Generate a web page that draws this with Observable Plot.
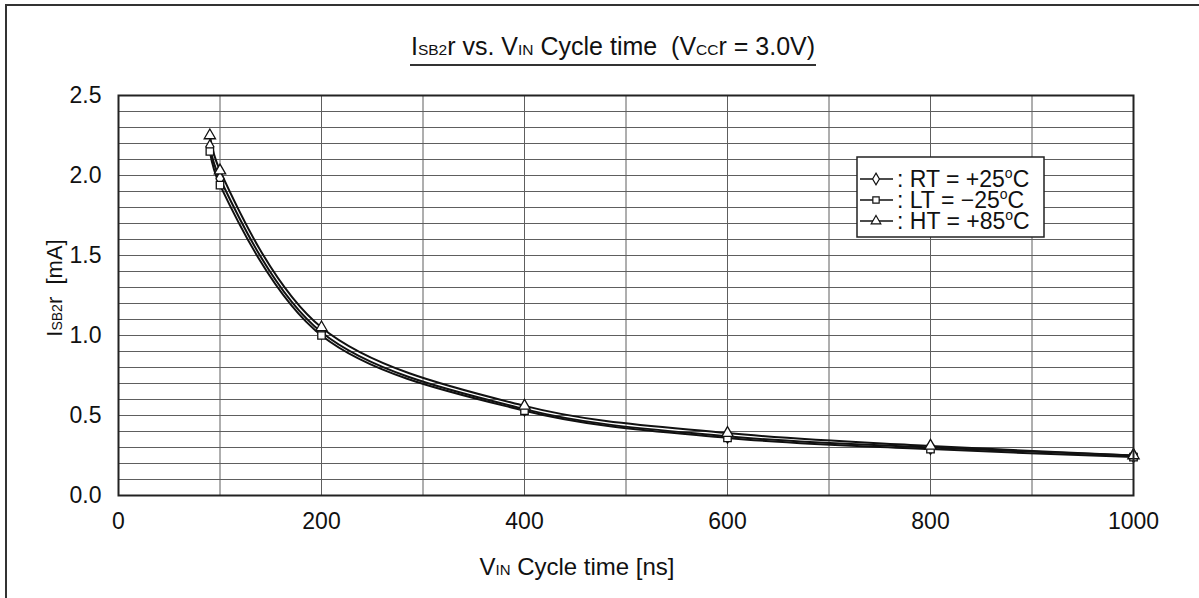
<!DOCTYPE html>
<html><head><meta charset="utf-8">
<script src="https://cdn.jsdelivr.net/npm/d3@7"></script>
<script src="https://cdn.jsdelivr.net/npm/@observablehq/plot@0.6"></script>
<style>
body{margin:0;background:#fff;font-family:"Liberation Sans",Arial,sans-serif;}
#fig{position:relative;width:1199px;height:598px;overflow:hidden;background:#fff;}
#border{position:absolute;left:5px;top:4px;width:1400px;height:800px;border-left:2px solid #333;border-top:2px solid #333;}
#title{position:absolute;left:0;width:1226px;top:32px;text-align:center;font-size:25px;color:#111;}
#title span.t{display:inline-block;border-bottom:2px solid #333;padding:0 1px 1px 1px;line-height:27px;}
.s{font-size:0.62em;}
#chart{position:absolute;left:0;top:0;}
</style></head>
<body>
<div id="fig">
  <div id="border"></div>
  <div id="chart"></div>
  <div id="title"><span class="t">I<span class="s">SB2</span>r vs. V<span class="s">IN</span> Cycle time&nbsp;&nbsp;(V<span class="s">CC</span>r = 3.0V)</span></div>
</div>
<script>
const cycleTime = [90, 100, 200, 400, 600, 800, 1000];
const rt = [2.18, 1.98, 1.02, 0.54, 0.37, 0.30, 0.25];
const lt = [2.15, 1.94, 1.00, 0.53, 0.36, 0.29, 0.24];
const ht = [2.25, 2.03, 1.05, 0.56, 0.39, 0.31, 0.25];
const seriesNames = ["RT", "LT", "HT"];
const seriesLabels = ["RT = +25", "LT = \u221225", "HT = +85"];
const seriesSymbols = ["diamond", "square", "triangle"];
const xTicks = [0, 200, 400, 600, 800, 1000];
const yTicks = [0, 0.5, 1.0, 1.5, 2.0, 2.5];

const seriesValues = [rt, lt, ht];
const data = [];
seriesNames.forEach((s, i) => cycleTime.forEach((x, j) => data.push({series: s, x, y: seriesValues[i][j], sym: seriesSymbols[i]})));

const W = 1199, H = 598;
const mL = 118, mR = 66, mT = 95, mB = 103;
const plot = Plot.plot({
  width: W, height: H,
  marginLeft: mL, marginRight: mR, marginTop: mT, marginBottom: mB,
  style: {fontFamily: "'Liberation Sans', Arial, sans-serif", fontSize: "23px", color: "#111", background: "transparent"},
  x: {domain: [0, 1000], ticks: xTicks, label: null},
  y: {domain: [0, 2.5], ticks: yTicks, label: null},
  marks: [
    Plot.gridY(d3.range(0, 26).map(i => i / 10), {stroke: "#5e5e5e", strokeOpacity: 1, strokeWidth: 1}),
    Plot.gridX(d3.range(0, 11).map(i => i * 100), {stroke: "#5e5e5e", strokeOpacity: 1, strokeWidth: 1}),
    Plot.axisX(xTicks, {tickSize: 0, tickPadding: 17, fontSize: 23, tickFormat: d => String(d), label: null}),
    Plot.axisY(yTicks, {tickSize: 0, tickPadding: 17, fontSize: 23, tickFormat: d3.format(".1f"), label: null}),
    Plot.line(data, {x: "x", y: "y", z: "series", stroke: "#111", strokeWidth: 2, curve: "catmull-rom"}),
    Plot.dot(data, {x: "x", y: "y", symbol: "sym", r: 4.2, fill: "white", stroke: "#111", strokeWidth: 1.3}),
    Plot.frame({stroke: "#222", strokeWidth: 2})
  ]
});
document.getElementById("chart").appendChild(plot);

const svg = d3.select(plot);
// y axis label
const yl = svg.append("text").attr("transform", "translate(62,288) rotate(-90)")
  .attr("text-anchor", "middle").attr("font-size", 22).attr("fill", "#111");
yl.append("tspan").text("I");
yl.append("tspan").attr("font-size", 14).text("SB2");
yl.append("tspan").text("r\u00a0\u00a0[mA]");
// x axis label
const xl = svg.append("text").attr("x", 577).attr("y", 575)
  .attr("text-anchor", "middle").attr("font-size", 24).attr("fill", "#111");
xl.append("tspan").text("V");
xl.append("tspan").attr("font-size", 15).text("IN");
xl.append("tspan").text(" Cycle time [ns]");

// legend
const lg = svg.append("g");
lg.append("rect").attr("x", 857).attr("y", 157).attr("width", 187).attr("height", 80)
  .attr("fill", "white").attr("stroke", "#222").attr("stroke-width", 1.5);
const symMap = {diamond: d3.symbolDiamond, square: d3.symbolSquare, triangle: d3.symbolTriangle};
seriesNames.forEach((s, i) => {
  const cy = 179 + i * 21;
  lg.append("line").attr("x1", 860).attr("x2", 893).attr("y1", cy).attr("y2", cy).attr("stroke", "#111").attr("stroke-width", 1.4);
  lg.append("path").attr("transform", `translate(876,${cy})`).attr("d", d3.symbol(symMap[seriesSymbols[i]], 40)())
    .attr("fill", "white").attr("stroke", "#111").attr("stroke-width", 1.2);
  const t = lg.append("text").attr("x", 897).attr("y", cy + 8).attr("text-anchor", "start")
    .attr("font-size", 23).attr("fill", "#111");
  t.append("tspan").text(":\u00a0" + seriesLabels[i]);
  t.append("tspan").attr("font-size", 14).attr("dy", -9).text("o");
  t.append("tspan").attr("dy", 9).text("C");
});
</script>
</body></html>
